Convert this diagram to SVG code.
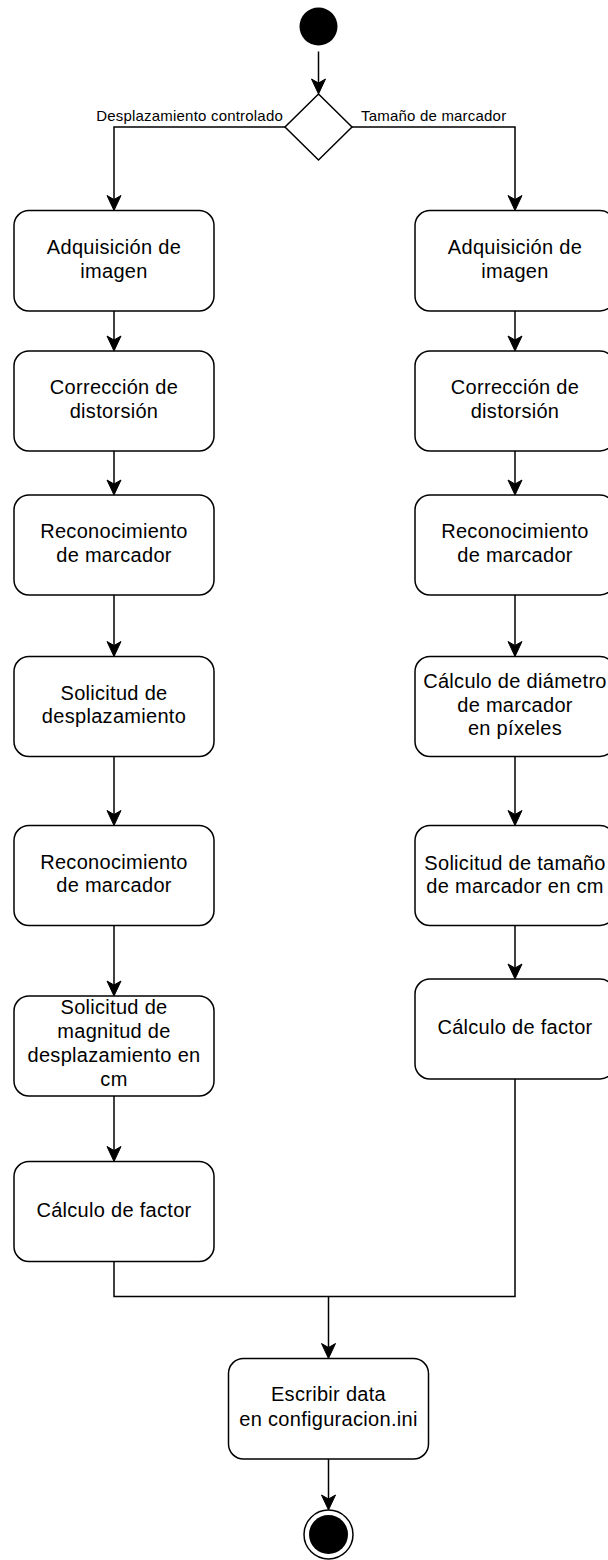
<svg xmlns="http://www.w3.org/2000/svg" width="608" height="1560" viewBox="0 0 608 1560">
  <style>
    .act { fill: #ffffff; stroke: #000000; stroke-width: 1.5; }
    .txt { font-family: "Liberation Sans", Arial, Helvetica, sans-serif; font-size: 20px; letter-spacing: 0.3px; fill: #000000; text-anchor: middle; }
    .elbl { font-family: "Liberation Sans", Arial, Helvetica, sans-serif; font-size: 15px; letter-spacing: 0.2px; fill: #000000; }
    .edge { fill: none; stroke: #000000; stroke-width: 1.5; }
    .arr { marker-end: url(#arrow); }
  </style>
  <defs>
    <marker id="arrow" markerUnits="userSpaceOnUse" markerWidth="16" markerHeight="16" refX="4" refY="7" orient="auto" overflow="visible">
      <path d="M0,0 L15,7 L0,14 L4,7 Z" fill="#000000" stroke="#000000" stroke-width="1" stroke-linejoin="miter"/>
    </marker>
  </defs>
  <rect width="608" height="1560" fill="#ffffff"/>

  <!-- connectors -->
  <g id="connectors">
    <path class="edge arr" d="M318.5,51.5 V83"/>
    <path class="edge arr" d="M285,127 H114 V199.5"/>
    <path class="edge arr" d="M352,127 H515 V199.5"/>
    <text class="elbl" x="283" y="120.5" text-anchor="end">Desplazamiento controlado</text>
    <text class="elbl" x="361" y="120.5">Tamaño de marcador</text>

    <!-- left column -->
    <path class="edge arr" d="M114,311 V340"/>
    <path class="edge arr" d="M114,451 V484"/>
    <path class="edge arr" d="M114,595 V645.5"/>
    <path class="edge arr" d="M114,756.5 V814.5"/>
    <path class="edge arr" d="M114,925.5 V985"/>
    <path class="edge arr" d="M114,1096 V1150.5"/>

    <!-- right column -->
    <path class="edge arr" d="M515,311 V340"/>
    <path class="edge arr" d="M515,451 V484"/>
    <path class="edge arr" d="M515,595 V645.5"/>
    <path class="edge arr" d="M515,756.5 V814.5"/>
    <path class="edge arr" d="M515,925.5 V968"/>

    <!-- merge into the final action -->
    <path class="edge" d="M114,1261.5 V1296.5 H515 V1079"/>
    <path class="edge arr" d="M328.5,1296.5 V1347.5"/>
    <path class="edge arr" d="M328.5,1459 V1499"/>
  </g>

  <!-- start / decision -->
  <g id="start">
    <circle cx="318.5" cy="26.5" r="19" fill="#000000"/>
  </g>
  <g id="decision">
    <path class="act" d="M318.5,94 L352,127 L318.5,160 L285,127 Z"/>
  </g>

  <!-- left column: controlled displacement -->
  <g id="l1">
    <rect class="act" x="14" y="210.5" width="200" height="100.5" rx="15"/>
    <text class="txt" x="114" y="254">Adquisición de</text>
    <text class="txt" x="114" y="277.5">imagen</text>
  </g>
  <g id="l2">
    <rect class="act" x="14" y="351" width="200" height="100" rx="15"/>
    <text class="txt" x="114" y="394.3">Corrección de</text>
    <text class="txt" x="114" y="418">distorsión</text>
  </g>
  <g id="l3">
    <rect class="act" x="14" y="495" width="200" height="100" rx="15"/>
    <text class="txt" x="114" y="538.3">Reconocimiento</text>
    <text class="txt" x="114" y="561.8">de marcador</text>
  </g>
  <g id="l4">
    <rect class="act" x="14" y="656.5" width="200" height="100" rx="15"/>
    <text class="txt" x="114" y="699.8">Solicitud de</text>
    <text class="txt" x="114" y="723.4">desplazamiento</text>
  </g>
  <g id="l5">
    <rect class="act" x="14" y="825.5" width="200" height="100" rx="15"/>
    <text class="txt" x="114" y="868.8">Reconocimiento</text>
    <text class="txt" x="114" y="892.4">de marcador</text>
  </g>
  <g id="l6">
    <rect class="act" x="14" y="996" width="200" height="100" rx="15"/>
    <text class="txt" x="114" y="1014.3">Solicitud de</text>
    <text class="txt" x="114" y="1037.8">magnitud de</text>
    <text class="txt" x="114" y="1061.6">desplazamiento en</text>
    <text class="txt" x="114" y="1085.5">cm</text>
  </g>
  <g id="l7">
    <rect class="act" x="14" y="1161.5" width="200" height="100" rx="15"/>
    <text class="txt" x="114" y="1216.6">Cálculo de factor</text>
  </g>

  <!-- right column: marker size -->
  <g id="r1">
    <rect class="act" x="415" y="210.5" width="200" height="100.5" rx="15"/>
    <text class="txt" x="515" y="254">Adquisición de</text>
    <text class="txt" x="515" y="277.5">imagen</text>
  </g>
  <g id="r2">
    <rect class="act" x="415" y="351" width="200" height="100" rx="15"/>
    <text class="txt" x="515" y="394.3">Corrección de</text>
    <text class="txt" x="515" y="418">distorsión</text>
  </g>
  <g id="r3">
    <rect class="act" x="415" y="495" width="200" height="100" rx="15"/>
    <text class="txt" x="515" y="538.3">Reconocimiento</text>
    <text class="txt" x="515" y="561.8">de marcador</text>
  </g>
  <g id="r4">
    <rect class="act" x="415" y="656.5" width="200" height="100" rx="15"/>
    <text class="txt" x="515" y="688.2">Cálculo de diámetro</text>
    <text class="txt" x="515" y="711.7">de marcador</text>
    <text class="txt" x="515" y="735.1">en píxeles</text>
  </g>
  <g id="r5">
    <rect class="act" x="415" y="825.5" width="200" height="100" rx="15"/>
    <text class="txt" x="515" y="869.6">Solicitud de tamaño</text>
    <text class="txt" x="515" y="893.1">de marcador en cm</text>
  </g>
  <g id="r6">
    <rect class="act" x="415" y="979" width="200" height="100" rx="15"/>
    <text class="txt" x="515" y="1034">Cálculo de factor</text>
  </g>

  <!-- final action and end -->
  <g id="write">
    <rect class="act" x="228.5" y="1358.5" width="200" height="100.5" rx="15"/>
    <text class="txt" x="328.5" y="1401.2">Escribir data</text>
    <text class="txt" x="328.5" y="1425.6">en configuracion.ini</text>
  </g>
  <g id="end">
    <circle cx="328.5" cy="1534.5" r="24.5" fill="#ffffff" stroke="#000000" stroke-width="1.5"/>
    <circle cx="328.5" cy="1534.5" r="19.5" fill="#000000"/>
  </g>
</svg>
